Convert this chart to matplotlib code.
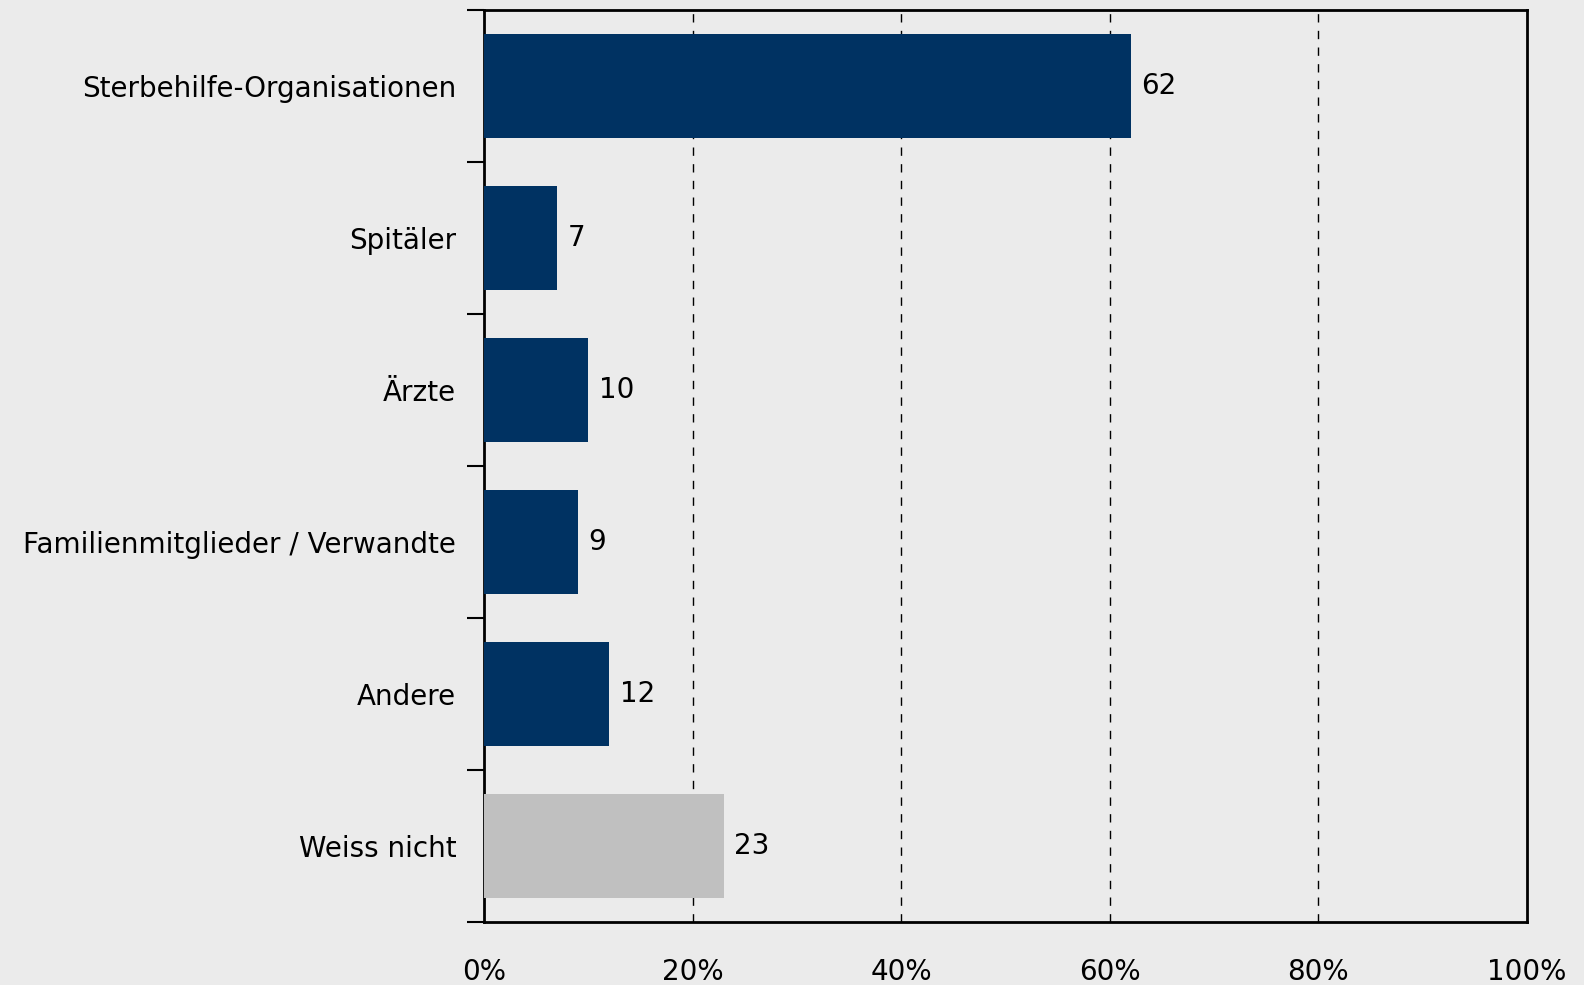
import numpy as np
import matplotlib
matplotlib.use("Agg")
from matplotlib import pyplot as plt

categories = ["Sterbehilfe-Organisationen", "Spitäler", "Ärzte",
              "Familienmitglieder / Verwandte", "Andere", "Weiss nicht"]
values = [62, 7, 10, 9, 12, 23]
bar_colors = ["#003262", "#003262", "#003262", "#003262", "#003262", "#c0c0c0"]
xticks = [0, 20, 40, 60, 80, 100]
xtick_labels = ["0%", "20%", "40%", "60%", "80%", "100%"]

bg = "#ebebeb"
plt.rcParams['font.family'] = ['DejaVu Sans']

fig = plt.figure(figsize=(15.84, 9.85), dpi=100, facecolor=bg)
ax = fig.add_axes([484/1584, 1 - 922/985, (1527-484)/1584, (922-10)/985])
ax.set_facecolor(bg)

y = np.arange(len(categories))
ax.barh(y, values, height=0.68, color=bar_colors, zorder=3)
for yi, v in zip(y, values):
    ax.text(v + 1.0, yi, str(v), va="center", ha="left", fontsize=20, color="black", zorder=4)

ax.set_xlim(0, 100)
ax.set_ylim(len(categories) - 0.5, -0.5)

# dashed guide lines at 20..80
for gx in xticks[1:-1]:
    ax.axvline(gx, color="black", lw=1, ls=(0, (6, 6)), zorder=1)

# category labels, tick marks only at the category boundaries
ax.set_yticks(y)
ax.set_yticklabels(categories, fontsize=20)
ax.tick_params(axis="y", length=0, pad=20)
ax.set_yticks(np.arange(len(categories) + 1) - 0.5, minor=True)
ax.tick_params(axis="y", which="minor", length=12, width=1.5, color="black")

ax.set_xticks(xticks)
ax.set_xticklabels(xtick_labels, fontsize=20)
ax.tick_params(axis="x", length=0, pad=26)

for s in ax.spines.values():
    s.set_linewidth(2)
    s.set_color("black")

fig.savefig("out.png", dpi=100, facecolor=bg)
